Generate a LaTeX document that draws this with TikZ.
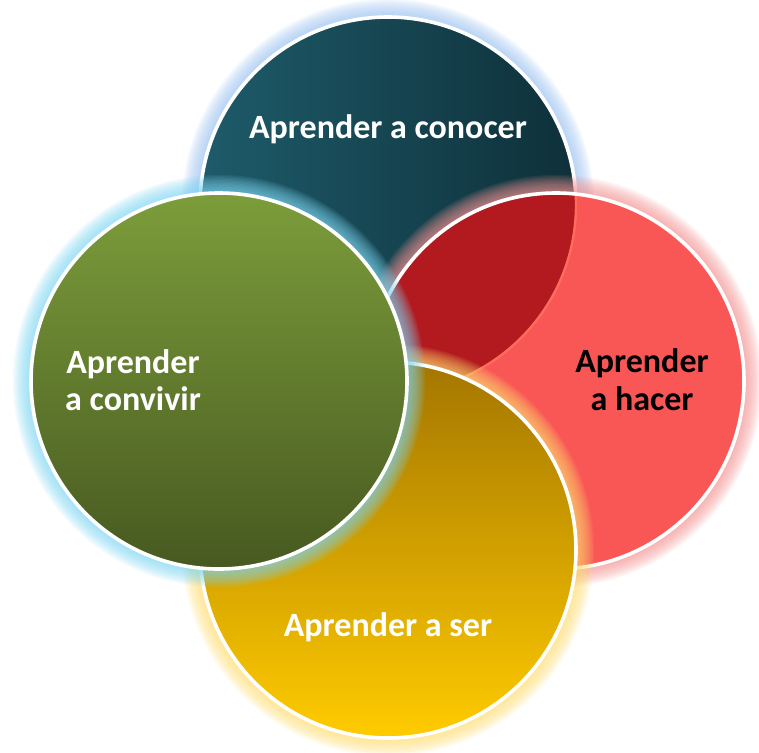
\documentclass[tikz,border=0pt]{standalone}
\usepackage{fontspec}
\setmainfont{Carlito}
\definecolor{tealL}{HTML}{1E5B6A}
\definecolor{tealR}{HTML}{0E3039}
\definecolor{lensred}{HTML}{B21A1F}
\definecolor{redfill}{HTML}{F95656}
\definecolor{redline}{HTML}{FF6C5E}
\definecolor{yelT}{HTML}{A47600}
\definecolor{yelM}{HTML}{E4A600}
\definecolor{yelB}{HTML}{FFCB00}
\definecolor{grnT}{HTML}{7C9D3B}
\definecolor{grnB}{HTML}{475920}
\definecolor{glowT}{HTML}{9DC3F0}
\definecolor{glowR}{HTML}{F49494}
\definecolor{glowY}{HTML}{FFDC70}
\definecolor{glowG}{HTML}{7FD6F2}
\tikzset{
  rim/.style={draw=white, line width=3.6pt},
  lbl/.style={font=\bfseries\fontsize{34}{38}\selectfont, text=white, anchor=base, inner sep=0pt},
}
\newcommand\myglow[2]{\foreach \i in {1,...,14}{\draw[#2, line width=2.6*\i pt, opacity=0.085] (#1) circle[radius=188pt];}}
\begin{document}
\begin{tikzpicture}[x=1pt,y=-1pt]
\useasboundingbox (0,0) rectangle (759,752);
\coordinate (T) at (388,205);
\coordinate (Rt) at (556,381);
\coordinate (B) at (388,550);
\coordinate (L) at (219,381);
% top circle
\myglow{T}{glowT}
\shade[left color=tealL, right color=tealR] (T) circle[radius=188pt];
\draw[rim] (T) circle[radius=188pt];
% red circle
\myglow{Rt}{glowR}
\fill[redfill] (Rt) circle[radius=188pt];
\begin{scope}
\clip (Rt) circle[radius=188pt];
\fill[lensred] (T) circle[radius=188pt];
\draw[redline, line width=2.4pt] (T) circle[radius=188pt];
\end{scope}
\draw[rim] (Rt) circle[radius=188pt];
% bottom circle
\myglow{B}{glowY}
\shade[top color=yelT, middle color=yelM, bottom color=yelB] (B) circle[radius=188pt];
\draw[rim] (B) circle[radius=188pt];
% left circle
\myglow{L}{glowG}
\shade[top color=grnT, bottom color=grnB] (L) circle[radius=188pt];
\draw[rim] (L) circle[radius=188pt];
% labels
\node[lbl] (conocer) at (388,138) {Aprender a conocer};
\node[lbl, text=black] (hacer1) at (642,372) {Aprender};
\node[lbl, text=black] (hacer2) at (642,410) {a hacer};
\node[lbl] (ser) at (388,636) {Aprender a ser};
\node[lbl] (conv1) at (133,373) {Aprender};
\node[lbl] (conv2) at (133,410) {a convivir};
\end{tikzpicture}
\end{document}
